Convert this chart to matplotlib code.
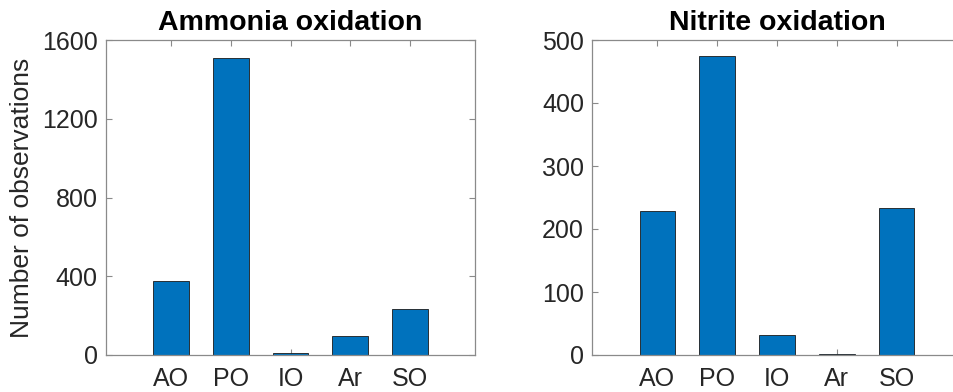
import matplotlib
matplotlib.use('Agg')
import matplotlib.pyplot as plt

# observation counts per category
categorias = ['AO', 'PO', 'IO', 'Ar', 'SO']
amonia = [378, 1510, 9, 96, 232]
nitrito = [229, 475, 31, 2, 234]

ticks_amonia = [0, 400, 800, 1200, 1600]
ticks_nitrito = [0, 100, 200, 300, 400, 500]

plt.rcParams['font.family'] = ['Liberation Sans', 'DejaVu Sans']

cor_barra = '#0072BD'
cor_eixo = '#8a8a8a'
cor_texto = '#262626'

fig = plt.figure(figsize=(9.54, 3.92), dpi=100)
ax1 = fig.add_axes([106 / 954, 37 / 392, 369 / 954, 315 / 392])
ax2 = fig.add_axes([592.3 / 954, 37 / 392, 369.4 / 954, 315 / 392])


def desenhar(ax, valores, ticks_y, titulo):
    x = list(range(1, len(categorias) + 1))
    ax.bar(x, valores, width=0.6, color=cor_barra, edgecolor='#1a1a1a',
           linewidth=0.6, zorder=2)
    ax.set_xlim(-0.09, 6.09)
    ax.set_ylim(ticks_y[0], ticks_y[-1])
    ax.set_xticks(x)
    ax.set_xticklabels(categorias)
    ax.set_yticks(ticks_y)
    ax.tick_params(direction='in', length=4, width=0.8, color=cor_eixo,
                   labelcolor=cor_texto, labelsize=18, pad=6,
                   top=True, right=True)
    ax.tick_params(axis='x', pad=9)
    for lado in ax.spines.values():
        lado.set_color(cor_eixo)
        lado.set_linewidth(0.9)
    ax.set_title(titulo, fontsize=20.5, fontweight='bold', pad=7)


desenhar(ax1, amonia, ticks_amonia, 'Ammonia oxidation')
desenhar(ax2, nitrito, ticks_nitrito, 'Nitrite oxidation')
ax1.set_ylabel('Number of observations', fontsize=19, color=cor_texto,
               labelpad=6)

plt.savefig('out.png', dpi=100)
plt.close()
